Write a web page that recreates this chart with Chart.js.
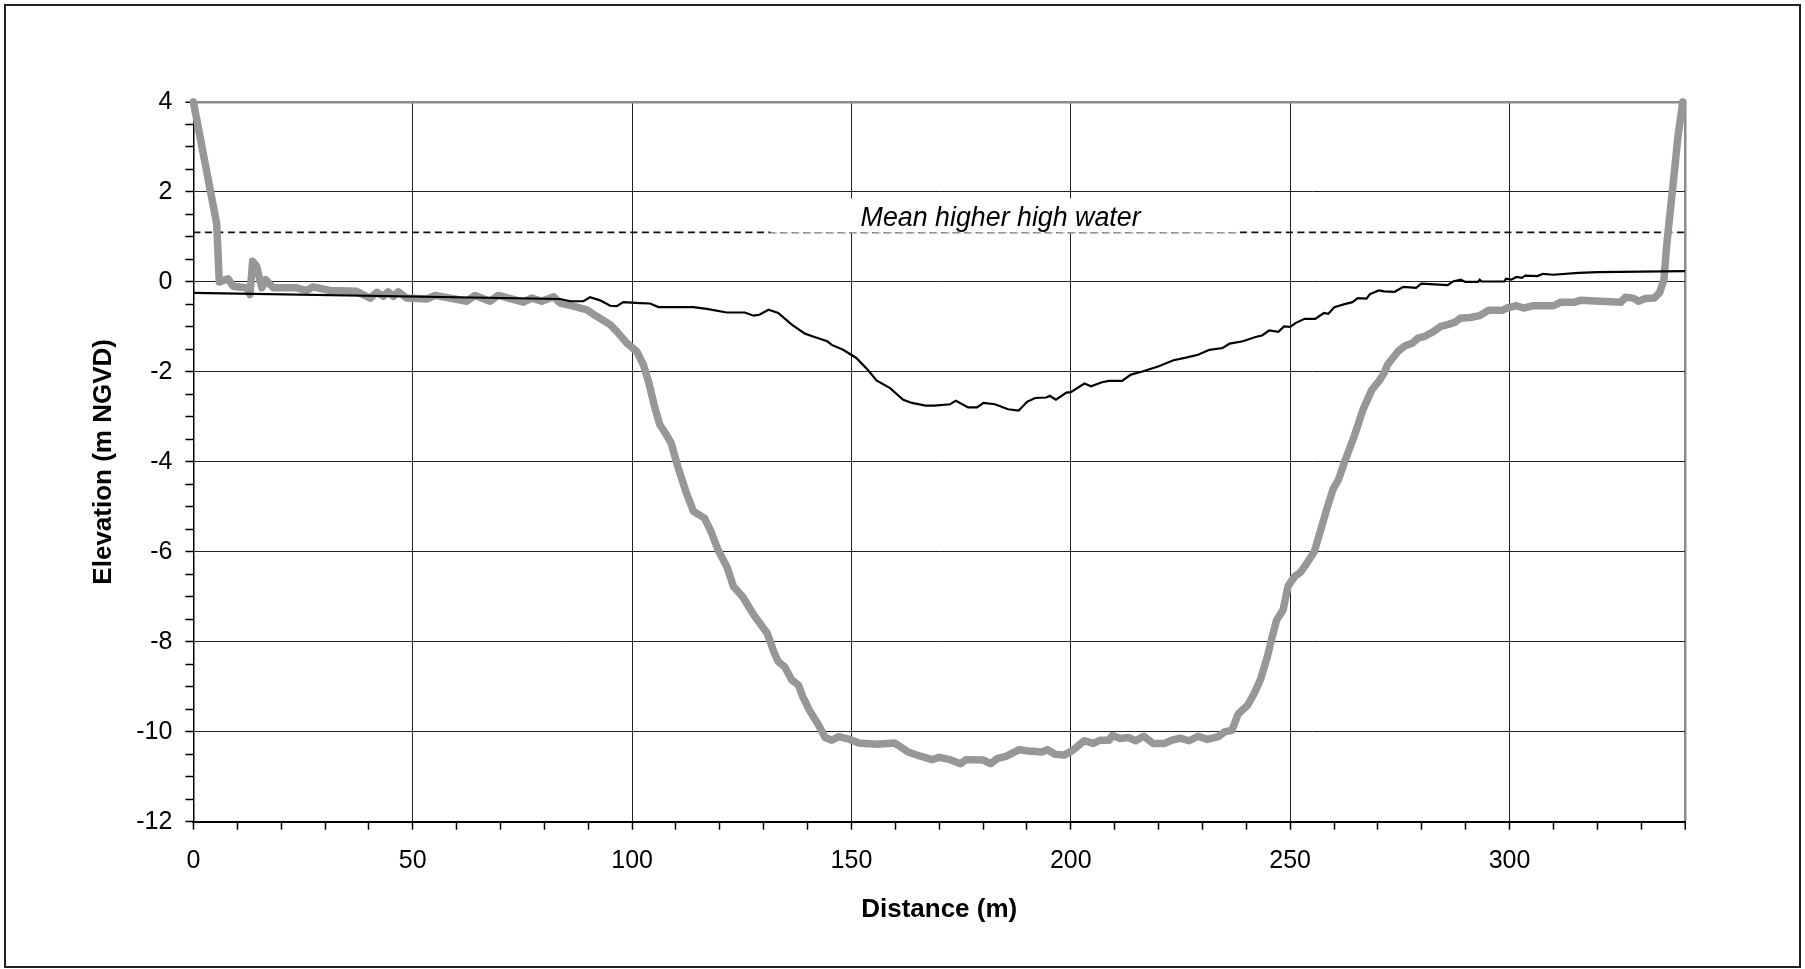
<!DOCTYPE html>
<html lang="en">
<head>
    <meta charset="UTF-8">
    <title>Cross section - Elevation vs Distance</title>
    <script src="https://cdn.jsdelivr.net/npm/chart.js"></script>
    <style>
        body {
            margin: 0;
            background: #fff;
        }
        canvas {
            display: block;
        }
    </style>
</head>
<body>
    <canvas id="profileChart" width="1805" height="969"></canvas>

    <script>
        // thick grey profile
        const bedDistance = [0, 5.3, 5.9, 7.9, 9.1, 12.1, 12.9, 13.5, 14.4, 15.6, 16.5, 18.2, 23.5, 25.8, 27.3, 31.1,
            37.2, 40.3, 41.8, 43.3, 44.4, 45.6, 46.7, 48.6, 53.2, 55.1, 62.3, 64.2, 67.6, 69.5, 75.2, 77.1, 79.4,
            82.1, 83.6, 86.6, 89.7, 92, 95, 96.5, 98.8, 101.1, 102.6, 103.8, 105.3, 106.3, 107.8, 108.9, 110.4,
            111.4, 112.4, 114, 116.5, 118, 119.6, 121.6, 123.1, 125.2, 127.7, 130.8, 132.3, 133.3, 134.8, 136.4,
            137.9, 138.9, 140.4, 142.5, 144, 145.5, 147.1, 149.6, 151.7, 155.8, 159.8, 162.9, 165.9, 168.4, 170,
            172.5, 174.9, 176.1, 180.1, 181.7, 183.2, 185.2, 188.3, 190.3, 193.4, 194.7, 196.4, 198.5, 200.5,
            203.1, 205.1, 206.6, 208.7, 209.5, 211.2, 213.2, 214.8, 216.6, 218.8, 221.4, 222.9, 224.9, 227, 229,
            231.1, 233.6, 235.1, 236.7, 238.2, 240.3, 241.8, 243.3, 244.8, 245.9, 246.9, 248.4, 249.5, 251, 252.3,
            253.5, 255.5, 257, 258.5, 259.8, 261, 262.6, 264.6, 266.6, 268.6, 270.2, 271.4, 272.2, 274.6, 276.2,
            277.9, 279.1, 280.7, 282.7, 284.3, 285.9, 287.5, 288.7, 291.1, 293.2, 295.2, 298.4, 299.6, 301.6,
            303.2, 305.2, 310.1, 311.7, 314.9, 316.1, 325.4, 326.4, 328.2, 329.4, 331, 333, 334.2, 335.2, 335.8,
            336.6, 337.4, 338.4, 339.5];
        const bedElevation = [4, 1.3, 0.0, 0.07, -0.1, -0.13, -0.28, 0.46, 0.35, -0.13, 0.05, -0.13, -0.13, -0.19,
            -0.11, -0.19, -0.21, -0.36, -0.23, -0.32, -0.22, -0.32, -0.22, -0.36, -0.38, -0.3, -0.43, -0.3, -0.43,
            -0.3, -0.45, -0.36, -0.43, -0.33, -0.47, -0.54, -0.62, -0.77, -0.95, -1.1, -1.36, -1.55, -1.85, -2.24,
            -2.84, -3.17, -3.4, -3.58, -4.1, -4.4, -4.7, -5.1, -5.25, -5.55, -5.96, -6.33, -6.77, -7.0, -7.4,
            -7.81, -8.22, -8.44, -8.56, -8.85, -8.96, -9.22, -9.52, -9.85, -10.13, -10.19, -10.11, -10.17, -10.25,
            -10.28, -10.25, -10.45, -10.55, -10.62, -10.57, -10.62, -10.71, -10.62, -10.63, -10.71, -10.6, -10.55,
            -10.4, -10.43, -10.45, -10.4, -10.5, -10.52, -10.41, -10.2, -10.26, -10.19, -10.19, -10.08, -10.15,
            -10.13, -10.2, -10.1, -10.26, -10.26, -10.19, -10.14, -10.2, -10.1, -10.17, -10.11, -10.0, -9.97,
            -9.6, -9.41, -9.15, -8.82, -8.33, -7.89, -7.52, -7.29, -6.77, -6.55, -6.46, -6.3, -6.0, -5.5, -5.0,
            -4.6, -4.4, -3.95, -3.43, -2.84, -2.4, -2.21, -2.03, -1.84, -1.54, -1.42, -1.36, -1.25, -1.21, -1.1,
            -0.99, -0.95, -0.9, -0.81, -0.79, -0.75, -0.63, -0.63, -0.57, -0.53, -0.58, -0.53, -0.53, -0.45,
            -0.45, -0.41, -0.45, -0.34, -0.36, -0.43, -0.37, -0.36, -0.24, 0.05, 0.79, 1.54, 2.28, 3.24, 4.0];

        // thin black profile
        const lineDistance = [0, 83.6, 85.9, 88.9, 90.4, 92.7, 95, 96.5, 98, 101.8, 104.1, 106, 114, 117, 121.6,
            125.7, 127.7, 129, 131.1, 133.3, 136.4, 139.4, 141.4, 144.5, 145.5, 148.1, 151.1, 153.7, 155.7, 158.8,
            161.8, 163.8, 166.9, 168.9, 172.5, 173.8, 176.6, 178.6, 180.1, 182.7, 185.7, 188.1, 190.1, 191.9,
            194.4, 195.2, 196.6, 199, 200, 203.1, 204.6, 207.1, 208.7, 211.7, 213.7, 216.3, 219.9, 223.4, 226,
            229, 231.6, 234.6, 236.2, 239.2, 242.3, 243.6, 245.2, 247.3, 248.6, 250, 251.3, 253.3, 255.7, 257.7,
            258.7, 260.1, 262.2, 264.2, 265.4, 267.4, 268.2, 270.2, 271.4, 273.8, 275.8, 278.7, 279.9, 285.9,
            287.1, 288.9, 289.9, 292.8, 293.2, 293.6, 298.8, 299.2, 300.4, 301.6, 302.8, 303.6, 306.4, 307.6,
            310, 315.7, 320.1, 340];
        const lineElevation = [-0.245, -0.38, -0.43, -0.43, -0.34, -0.41, -0.53, -0.54, -0.45, -0.47, -0.48, -0.56,
            -0.56, -0.6, -0.68, -0.68, -0.75, -0.73, -0.62, -0.69, -0.95, -1.15, -1.22, -1.32, -1.4, -1.51, -1.69,
            -1.95, -2.19, -2.36, -2.62, -2.69, -2.75, -2.75, -2.72, -2.64, -2.79, -2.79, -2.69, -2.72, -2.83,
            -2.86, -2.66, -2.58, -2.57, -2.53, -2.62, -2.46, -2.45, -2.26, -2.32, -2.23, -2.2, -2.2, -2.06, -1.99,
            -1.88, -1.74, -1.69, -1.62, -1.51, -1.47, -1.37, -1.32, -1.22, -1.19, -1.08, -1.11, -0.99, -1.0,
            -0.91, -0.82, -0.82, -0.69, -0.71, -0.56, -0.5, -0.45, -0.36, -0.37, -0.27, -0.19, -0.21, -0.22,
            -0.11, -0.13, -0.04, -0.07, 0.01, 0.05, 0.0, 0.0, 0.05, 0.01, 0.01, 0.07, 0.05, 0.11, 0.09, 0.14,
            0.13, 0.18, 0.16, 0.2, 0.22, 0.24];

        // mean higher high water
        const mhhwDistance = [0, 340.8];
        const mhhwElevation = [1.1, 1.1];
        const mhhwLabel = 'Mean higher high water';
        const mhhwLabelAt = 184;
        const mhhwLabelSpan = [131.5, 238];

        const xTitle = 'Distance (m)';
        const yTitle = 'Elevation (m NGVD)';
        const xMin = 0, xMax = 340, xMajor = 50, xMinor = 10;
        const yMin = -12, yMax = 4, yMajor = 2, yMinor = 0.5;

        const FONT = '"Liberation Sans", Arial, sans-serif';

        function toPoints(xs, ys) {
            return xs.map((x, i) => ({ x: x, y: ys[i] }));
        }

        function isMajor(v, step) {
            const r = Math.abs(v / step - Math.round(v / step));
            return r < 1e-6;
        }

        // white page, outer frame and the MHHW label
        const frame = {
            id: 'frame',
            beforeDraw(chart) {
                const ctx = chart.ctx;
                ctx.save();
                ctx.fillStyle = '#fff';
                ctx.fillRect(0, 0, chart.width, chart.height);
                ctx.strokeStyle = '#222';
                ctx.lineWidth = 2;
                ctx.strokeRect(5, 5, chart.width - 10, chart.height - 7);
                ctx.restore();
            },
            afterDatasetsDraw(chart) {
                const ctx = chart.ctx;
                const xs = chart.scales.x, ys = chart.scales.y;
                const y = ys.getPixelForValue(mhhwElevation[0]);
                const x1 = xs.getPixelForValue(mhhwLabelSpan[0]);
                const x2 = xs.getPixelForValue(mhhwLabelSpan[1]);
                ctx.save();
                ctx.fillStyle = '#fff';
                ctx.fillRect(x1, y - 34, x2 - x1, 34);
                ctx.strokeStyle = '#b0b0b0';
                ctx.lineWidth = 1;
                ctx.setLineDash([7, 4.5]);
                ctx.beginPath();
                ctx.moveTo(x1, y + 0.5);
                ctx.lineTo(x2, y + 0.5);
                ctx.stroke();
                ctx.setLineDash([]);
                ctx.fillStyle = '#000';
                ctx.font = 'italic 26.8px ' + FONT;
                ctx.textAlign = 'center';
                ctx.textBaseline = 'alphabetic';
                ctx.fillText(mhhwLabel, xs.getPixelForValue(mhhwLabelAt), y - 6);
                ctx.restore();
            }
        };

        const ctx = document.getElementById('profileChart').getContext('2d');
        new Chart(ctx, {
            type: 'scatter',
            data: {
                datasets: [{
                    label: 'Profile',
                    data: toPoints(lineDistance, lineElevation),
                    showLine: true,
                    borderColor: '#000',
                    borderWidth: 2.2,
                    pointRadius: 0,
                    order: 0
                }, {
                    label: 'Bed',
                    data: toPoints(bedDistance, bedElevation),
                    showLine: true,
                    borderColor: '#979797',
                    borderWidth: 7.5,
                    borderJoinStyle: 'round',
                    borderCapStyle: 'round',
                    pointRadius: 0,
                    clip: false,
                    order: 1
                }, {
                    label: 'MHHW',
                    data: toPoints(mhhwDistance, mhhwElevation),
                    showLine: true,
                    borderColor: '#111',
                    borderWidth: 1.8,
                    borderDash: [7, 4.5],
                    pointRadius: 0,
                    clip: false,
                    order: 2
                }]
            },
            options: {
                responsive: false,
                animation: false,
                events: [],
                layout: {
                    padding: { left: 60, top: 102, right: 120, bottom: 30 }
                },
                plugins: {
                    legend: { display: false },
                    tooltip: { enabled: false }
                },
                scales: {
                    x: {
                        type: 'linear',
                        min: xMin,
                        max: xMax,
                        afterFit(scale) { scale.height = 117.3; },
                        border: { color: '#000', width: 2 },
                        grid: {
                            color: c => c.tick.value === xMax ? '#8c8c8c' : (isMajor(c.tick.value, xMajor) ? '#222' : 'rgba(0,0,0,0)'),
                            lineWidth: c => c.tick.value === xMax ? 2.5 : 1,
                            tickColor: '#000',
                            tickLength: 8,
                            tickWidth: 1.5
                        },
                        ticks: {
                            stepSize: xMinor,
                            autoSkip: false,
                            maxRotation: 0,
                            padding: 16,
                            color: '#000',
                            font: { family: FONT, size: 25 },
                            callback: v => isMajor(v, xMajor) ? String(v) : ''
                        },
                        title: {
                            display: true,
                            text: xTitle,
                            color: '#000',
                            font: { family: FONT, size: 26, weight: 'bold' },
                            padding: { top: 0, bottom: 14 }
                        }
                    },
                    y: {
                        type: 'linear',
                        min: yMin,
                        max: yMax,
                        afterFit(scale) { scale.width = 133.4; },
                        border: { color: '#000', width: 1.5 },
                        grid: {
                            color: c => c.tick.value === yMax ? '#8c8c8c' : (isMajor(c.tick.value, yMajor) ? '#222' : 'rgba(0,0,0,0)'),
                            lineWidth: c => c.tick.value === yMax ? 2.5 : 1,
                            tickColor: '#000',
                            tickLength: 8,
                            tickWidth: 1.5
                        },
                        ticks: {
                            stepSize: yMinor,
                            autoSkip: false,
                            padding: 13,
                            color: '#000',
                            font: { family: FONT, size: 25 },
                            callback: v => isMajor(v, yMajor) ? String(v) : ''
                        },
                        title: {
                            display: true,
                            text: yTitle,
                            color: '#000',
                            font: { family: FONT, size: 26, weight: 'bold' },
                            padding: { top: 28, bottom: 0 }
                        }
                    }
                }
            },
            plugins: [frame]
        });
    </script>
</body>
</html>
